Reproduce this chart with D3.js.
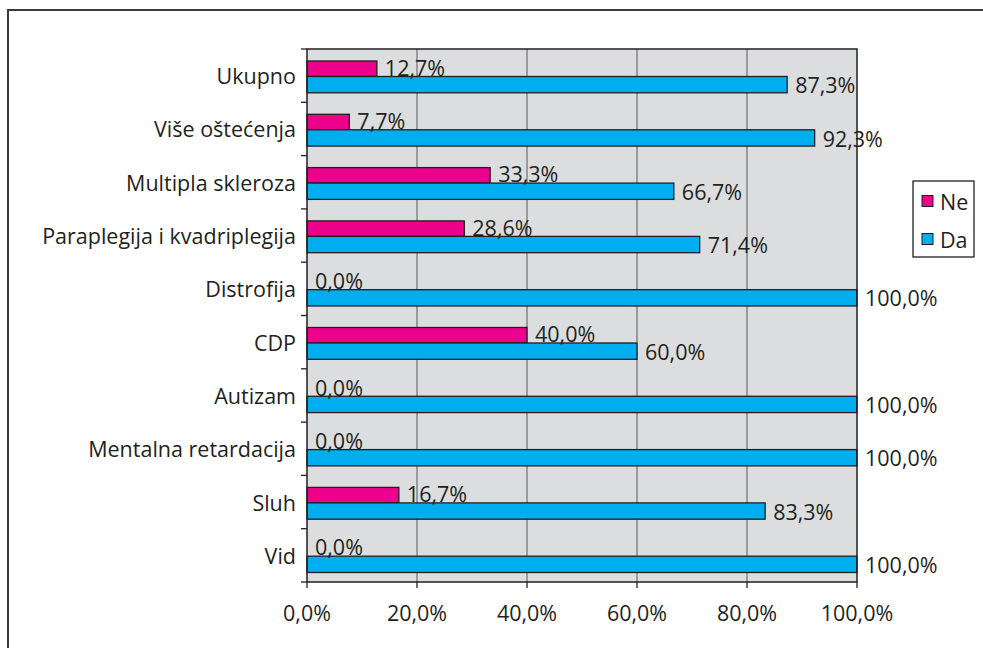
<!DOCTYPE html>
<html><head><meta charset="utf-8">
<script src="https://cdn.jsdelivr.net/npm/d3@7"></script>
<style>
html,body{margin:0;padding:0;background:#fff;}
svg{display:block;}
text{font-family:"Open Sans",sans-serif;fill:#231f20;}
</style></head>
<body>
<script>
const categories = ["Ukupno","Više oštećenja","Multipla skleroza","Paraplegija i kvadriplegija","Distrofija","CDP","Autizam","Mentalna retardacija","Sluh","Vid"];
const seriesNames = ["Ne","Da"];
const neValues = [12.7,7.7,33.3,28.6,0.0,40.0,0.0,0.0,16.7,0.0];
const daValues = [87.3,92.3,66.7,71.4,100.0,60.0,100.0,100.0,83.3,100.0];
const xTicks = [0,20,40,60,80,100];
const colors = ["#ec008c","#00aeef"];

const W=983,H=648, FS=21.5;
const fmt = v => d3.format(".1f")(v).replace(".",",")+"%";
const svg = d3.select("body").append("svg").attr("width",W).attr("height",H);

// outer frame
svg.append("rect").attr("x",8).attr("y",10).attr("width",W).attr("height",H)
  .attr("fill","none").attr("stroke","#3a3a3a").attr("stroke-width",2);

const L=307,R=857,T=49,B=582;
const x = d3.scaleLinear().domain([0,100]).range([L,R]);
const y = d3.scaleBand().domain(categories).range([T,B]);
const bw = y.bandwidth();
const barH = 15.5;

svg.append("rect").attr("x",L).attr("y",T).attr("width",R-L).attr("height",B-T).attr("fill","#dcdddf");

// vertical gridlines
svg.selectAll("line.grid").data(xTicks.slice(1,-1)).enter().append("line")
  .attr("x1",d=>x(d)).attr("x2",d=>x(d)).attr("y1",T).attr("y2",B)
  .attr("stroke","#6d6e71").attr("stroke-width",1.2);

const rows = categories.map((c,i)=>({c, ne:neValues[i], da:daValues[i]}));

// bars
const g = svg.append("g");
rows.forEach(r=>{
  const y0 = y(r.c);
  const yNe = y0 + bw*0.225;
  const yDa = yNe + barH;
  if (r.ne>0) g.append("rect").attr("x",x(0)).attr("y",yNe).attr("width",x(r.ne)-x(0)).attr("height",barH)
    .attr("fill",colors[0]).attr("stroke","#231f20").attr("stroke-width",1.3);
  g.append("rect").attr("x",x(0)).attr("y",yDa).attr("width",x(r.da)-x(0)).attr("height",barH+0.8)
    .attr("fill",colors[1]).attr("stroke","#231f20").attr("stroke-width",1.3);
  svg.append("text").attr("x",x(r.ne)+8).attr("y",yNe+barH/2-1.5).attr("dominant-baseline","central")
    .attr("font-size",FS).text(fmt(r.ne));
  svg.append("text").attr("x",x(r.da)+8).attr("y",yDa+barH/2+0.5).attr("dominant-baseline","central")
    .attr("font-size",FS).text(fmt(r.da));
});

// plot border
svg.append("rect").attr("x",L).attr("y",T).attr("width",R-L).attr("height",B-T)
  .attr("fill","none").attr("stroke","#231f20").attr("stroke-width",1.5);

// y axis ticks and labels
const yTickPos = d3.range(categories.length+1).map(i=>T+i*bw);
svg.selectAll("line.yt").data(yTickPos).enter().append("line")
  .attr("x1",L-6).attr("x2",L).attr("y1",d=>d).attr("y2",d=>d).attr("stroke","#231f20").attr("stroke-width",1.3);
svg.selectAll("text.cat").data(categories).enter().append("text")
  .attr("x",296).attr("y",d=>y(d)+bw/2).attr("text-anchor","end").attr("dominant-baseline","central")
  .attr("font-size",FS).text(d=>d);

// x axis
svg.selectAll("line.xt").data(xTicks).enter().append("line")
  .attr("x1",d=>x(d)).attr("x2",d=>x(d)).attr("y1",B).attr("y2",B+6).attr("stroke","#231f20").attr("stroke-width",1.3);
svg.selectAll("text.xl").data(xTicks).enter().append("text")
  .attr("x",d=>x(d)).attr("y",612).attr("text-anchor","middle").attr("dominant-baseline","central")
  .attr("font-size",FS).text(d=>fmt(d));

// legend
const lg = svg.append("g");
lg.append("rect").attr("x",913).attr("y",181).attr("width",61).attr("height",76).attr("fill","#fff").attr("stroke","#231f20").attr("stroke-width",1.3);
seriesNames.forEach((s,i)=>{
  const cy = 201 + i*38;
  lg.append("rect").attr("x",922).attr("y",cy-5.5).attr("width",11).attr("height",11).attr("fill",colors[i]).attr("stroke","#231f20").attr("stroke-width",1);
  lg.append("text").attr("x",940).attr("y",cy).attr("dominant-baseline","central").attr("font-size",FS).text(s);
});
</script>
</body></html>
